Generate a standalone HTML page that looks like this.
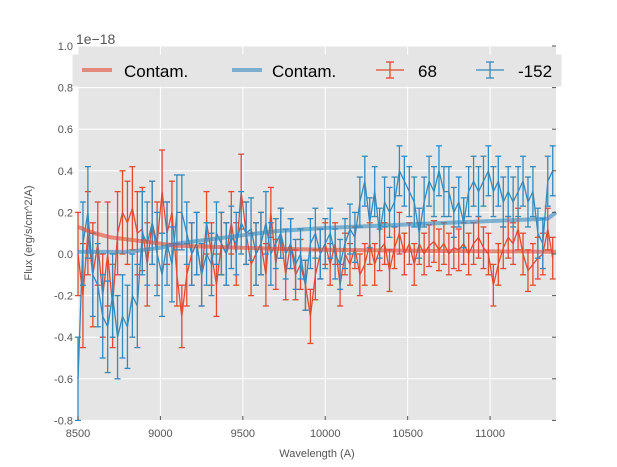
<!DOCTYPE html>
<html><head><meta charset="utf-8"><style>
body{margin:0;background:#fff;}
svg{font-family:"Liberation Sans",sans-serif;display:block}
</style></head><body>
<svg id="chart" width="617" height="467"></svg>
<script>
const wl0 = 8500, wlStep = 30;
const flux68 = [0.0,-0.2,0.1,-0.1,0.05,-0.2,0.0,-0.25,0.1,0.2,0.15,0.22,0.1,0.12,-0.05,0.15,0.05,0.3,0.1,0.2,-0.1,-0.3,-0.1,0.0,0.05,-0.1,0.15,0.0,-0.15,0.05,0.0,0.15,0.0,0.3,0.1,-0.05,0.0,0.05,-0.1,0.2,-0.05,0.1,-0.1,0.05,-0.1,-0.05,-0.15,-0.3,-0.1,0.0,0.05,-0.05,0.05,-0.15,0.0,-0.05,0.03,-0.1,-0.05,0.05,-0.05,0.02,0.05,-0.08,0.03,0.1,0.0,0.05,-0.05,0.05,0.0,0.04,0.06,0.02,0.05,0.0,0.03,0.02,0.05,0.0,0.05,0.08,0.03,0.0,-0.15,-0.05,0.03,0.08,0.05,0.12,0.0,-0.08,-0.05,-0.02,0.0,0.12,-0.02];
const err68 = [0.2,0.25,0.2,0.25,0.2,0.2,0.25,0.2,0.2,0.2,0.2,0.2,0.2,0.2,0.2,0.2,0.2,0.2,0.15,0.15,0.15,0.15,0.15,0.15,0.15,0.15,0.15,0.15,0.15,0.15,0.15,0.15,0.15,0.18,0.15,0.15,0.15,0.15,0.15,0.12,0.12,0.12,0.12,0.12,0.12,0.12,0.12,0.13,0.12,0.12,0.1,0.1,0.1,0.1,0.1,0.1,0.1,0.1,0.1,0.1,0.1,0.1,0.1,0.1,0.1,0.1,0.1,0.1,0.1,0.1,0.1,0.1,0.1,0.1,0.1,0.1,0.1,0.1,0.1,0.1,0.1,0.1,0.1,0.1,0.1,0.1,0.1,0.1,0.1,0.1,0.1,0.1,0.1,0.1,0.1,0.1,0.1];
const flux152 = [-0.6,0.05,0.2,-0.1,-0.15,-0.3,-0.35,-0.2,-0.4,-0.3,-0.35,-0.2,-0.25,0.1,0.05,0.15,0.0,-0.1,0.05,-0.05,0.2,0.2,0.1,0.0,0.05,-0.1,0.0,-0.05,0.1,0.05,0.0,0.08,0.05,0.15,0.1,0.12,0.0,0.05,0.15,0.0,0.05,0.1,0.0,0.05,-0.05,0.0,-0.15,0.05,0.1,0.0,0.05,0.1,0.0,-0.05,0.05,0.12,0.08,0.25,0.35,0.15,0.3,0.1,0.25,0.2,0.25,0.4,0.35,0.3,0.25,0.1,0.25,0.35,0.3,0.4,0.3,0.3,0.2,0.25,0.15,0.3,0.35,0.3,0.35,0.4,0.3,0.35,0.25,0.3,0.25,0.3,0.35,0.25,0.3,0.1,0.05,0.35,0.4];
const err152 = [0.2,0.2,0.22,0.2,0.2,0.2,0.22,0.2,0.2,0.2,0.2,0.2,0.2,0.2,0.2,0.2,0.2,0.2,0.2,0.18,0.18,0.18,0.15,0.15,0.15,0.15,0.15,0.15,0.15,0.15,0.15,0.15,0.15,0.15,0.15,0.15,0.15,0.15,0.15,0.15,0.12,0.12,0.12,0.12,0.12,0.12,0.12,0.12,0.12,0.12,0.12,0.12,0.12,0.12,0.12,0.12,0.12,0.12,0.12,0.12,0.12,0.12,0.12,0.12,0.12,0.12,0.12,0.12,0.12,0.12,0.12,0.12,0.12,0.12,0.12,0.12,0.12,0.12,0.12,0.12,0.12,0.12,0.12,0.12,0.12,0.12,0.12,0.12,0.12,0.12,0.12,0.12,0.12,0.12,0.12,0.12,0.12];
const contamWl = [8500,8600,8700,8800,8900,9000,9100,9300,9500,9700,10000,10300,10600,10900,11200,11350,11400];
const contam68 = [0.13,0.1,0.08,0.07,0.06,0.05,0.04,0.035,0.03,0.025,0.02,0.018,0.015,0.013,0.012,0.01,0.01];
const contam152 = [0.01,0.01,0.01,0.01,0.02,0.03,0.05,0.07,0.09,0.11,0.125,0.135,0.145,0.155,0.165,0.17,0.2];
const xTicks = [8500,9000,9500,10000,10500,11000];
const yTicks = [-0.8,-0.6,-0.4,-0.2,0.0,0.2,0.4,0.6,0.8,1.0];

const L=78,R=556,T=46,B=420;
const X=w=>L+(w-8500)*(R-L)/2900;
const Y=v=>254-v*208;
const NS='http://www.w3.org/2000/svg';
const svg=document.getElementById('chart');
function mk(tag,attrs,parent){const e=document.createElementNS(NS,tag);for(const k in attrs)e.setAttribute(k,attrs[k]);(parent||svg).appendChild(e);return e;}

const bg=mk('rect',{x:L,y:T,width:R-L,height:B-T,fill:'#e5e5e5'});


const grid=mk('g',{stroke:'#fff','stroke-width':1});


xTicks.forEach(t=>{mk('line',{x1:X(t),x2:X(t),y1:T,y2:B},grid);});
yTicks.forEach(t=>{mk('line',{x1:L,x2:R,y1:Y(t),y2:Y(t)},grid);});

function series(vals,errs,color,name){
  const g=mk('g',{stroke:color,fill:'none','stroke-width':1.3});
  
  
  let d='';
  vals.forEach((v,i)=>{const x=X(wl0+i*wlStep);const e=errs[i];
    mk('line',{x1:x,x2:x,y1:Y(v-e),y2:Y(v+e)},g);
    mk('line',{x1:x-3,x2:x+3,y1:Y(v-e),y2:Y(v-e)},g);
    mk('line',{x1:x-3,x2:x+3,y1:Y(v+e),y2:Y(v+e)},g);
    d+=(i?'L':'M')+x.toFixed(1)+' '+Y(v).toFixed(1);});
  mk('path',{d:d},g);
}
series(flux68,err68,'#E24A33','series-68');
series(flux152,err152,'#348ABD','series-minus152');
function contam(vals,color,name){
  const d=vals.map((v,i)=>(i?'L':'M')+X(contamWl[i]).toFixed(1)+' '+Y(v).toFixed(1)).join('');
  const p=mk('path',{d:d,stroke:color,'stroke-width':4,fill:'none','stroke-opacity':0.6,'stroke-linejoin':'round'});
  
  
}
contam(contam68,'#E24A33','contam-68-line');
contam(contam152,'#348ABD','contam-152-line');

const ax=mk('g',{fill:'#555','font-size':11});


xTicks.forEach(t=>{const e=mk('text',{x:X(t),y:B+17,'text-anchor':'middle'},ax);e.textContent=t;
  mk('line',{x1:X(t),x2:X(t),y1:B,y2:B-4,stroke:'#555'},ax);});
yTicks.forEach(t=>{const e=mk('text',{x:L-5,y:Y(t)+4,'text-anchor':'end'},ax);e.textContent=t.toFixed(1);
  mk('line',{x1:R,x2:R-4,y1:Y(t),y2:Y(t),stroke:'#555'},ax);});
</script>
<svg width="617" height="467" style="position:absolute;left:0;top:0;font-family:'Liberation Sans',sans-serif">
<text x="76" y="44" font-size="14" fill="#555">1e−18</text>
<text x="317" y="457" font-size="11" fill="#555" text-anchor="middle">Wavelength (A)</text>
<text transform="translate(32,233) rotate(-90)" font-size="11" fill="#555" text-anchor="middle">Flux (erg/s/cm^2/A)</text>
<g>
<rect x="73" y="55" width="488" height="31" fill="#e5e5e5" stroke="#e5e5e5"/>
<line x1="82" x2="112" y1="70" y2="70" stroke="#E24A33" stroke-opacity="0.6" stroke-width="4"/>
<text x="124" y="77" font-size="17" fill="#000">Contam.</text>
<line x1="232" x2="262" y1="70" y2="70" stroke="#348ABD" stroke-opacity="0.6" stroke-width="4"/>
<text x="272" y="77" font-size="17" fill="#000">Contam.</text>
<g stroke="#E24A33" stroke-width="1.3"><line x1="376" x2="404" y1="70" y2="70"/><line x1="390" x2="390" y1="62" y2="78"/><line x1="386" x2="394" y1="62" y2="62"/><line x1="386" x2="394" y1="78" y2="78"/></g>
<text x="418" y="77" font-size="17" fill="#000">68</text>
<g stroke="#348ABD" stroke-width="1.3"><line x1="476" x2="504" y1="70" y2="70"/><line x1="490" x2="490" y1="62" y2="78"/><line x1="486" x2="494" y1="62" y2="62"/><line x1="486" x2="494" y1="78" y2="78"/></g>
<text x="518" y="77" font-size="17" fill="#000">-152</text>
</g>
</svg>
</body></html>
